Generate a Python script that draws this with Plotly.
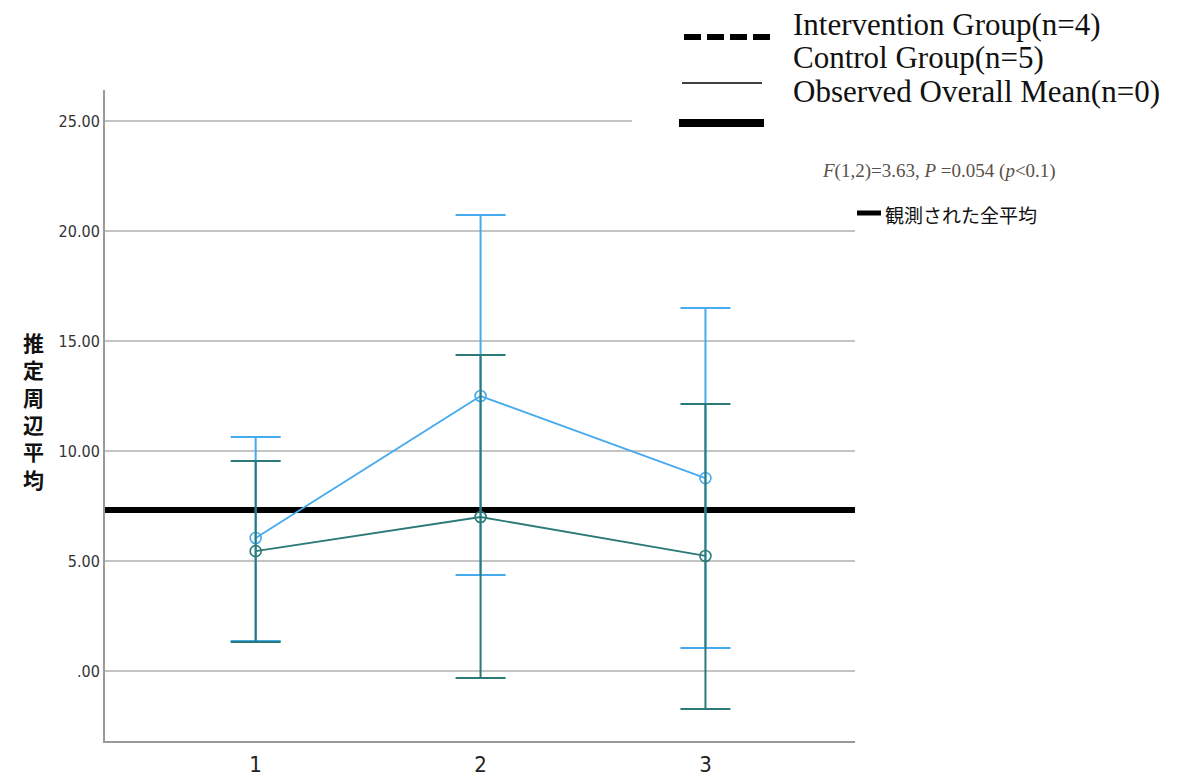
import plotly.graph_objects as go

# ---- data ----
categories = [1, 2, 3]
x_tick_labels = ["1", "2", "3"]
intervention_mean = [6.05, 12.50, 8.77]
intervention_upper = [10.64, 20.73, 16.50]
intervention_lower = [1.36, 4.36, 1.05]
control_mean = [5.45, 7.00, 5.23]
control_upper = [9.55, 14.36, 12.14]
control_lower = [1.32, -0.32, -1.73]
overall_mean = 7.32
y_tick_vals = [0, 5, 10, 15, 20, 25]
y_tick_labels = [".00", "5.00", "10.00", "15.00", "20.00", "25.00"]
legend_labels = ["Intervention Group(n=4)", "Control Group(n=5)", "Observed Overall Mean(n=0)"]
stat_text = "<i>F</i>(1,2)=3.63, <i>P</i> =0.054 (<i>p</i>&lt;0.1)"
jp_mean_label = "観測された全平均"
y_title = "推定周辺平均"

W, H = 1186, 779
L, R, T, B = 105, 855, 90, 741  # plot area in pixels


def px(x):
    return (x - L) / (R - L)


def py(y):
    return (B - y) / (B - T)


BLUE = "#45ABEE"
TEAL = "#2B7A78"
NARROW = "Liberation Sans Narrow, DejaVu Sans Condensed, Liberation Sans"

fig = go.Figure()


def add_group(mean, upper, lower, color):
    fig.add_trace(go.Scatter(
        x=categories, y=mean, mode="lines+markers",
        line=dict(color=color, width=1.8),
        marker=dict(symbol="circle-open", size=11, color=color, line=dict(width=1.6, color=color)),
        error_y=dict(type="data", symmetric=False,
                     array=[u - m for u, m in zip(upper, mean)],
                     arrayminus=[m - l for m, l in zip(mean, lower)],
                     color=color, thickness=2, width=25),
        showlegend=False, hoverinfo="skip",
    ))


add_group(intervention_mean, intervention_upper, intervention_lower, BLUE)
add_group(control_mean, control_upper, control_lower, TEAL)

shapes = []
# overall mean line
shapes.append(dict(type="line", xref="paper", yref="y", x0=0, x1=1, y0=overall_mean, y1=overall_mean,
                   line=dict(color="black", width=6), layer="below"))
# white patch of pasted legend image covering top gridline
shapes.append(dict(type="rect", xref="paper", yref="paper", x0=px(632), x1=px(862), y0=py(142), y1=py(95),
                   fillcolor="white", line=dict(width=0), layer="above"))
# legend symbols
shapes.append(dict(type="line", xref="paper", yref="paper", x0=px(684), x1=px(771), y0=py(37), y1=py(37),
                   line=dict(color="black", width=6, dash="17px,6px")))
shapes.append(dict(type="line", xref="paper", yref="paper", x0=px(682), x1=px(762), y0=py(83), y1=py(83),
                   line=dict(color="black", width=1.3)))
shapes.append(dict(type="line", xref="paper", yref="paper", x0=px(679), x1=px(764), y0=py(123), y1=py(123),
                   line=dict(color="black", width=8)))
# Japanese legend bar
shapes.append(dict(type="line", xref="paper", yref="paper", x0=px(857), x1=px(881), y0=py(213), y1=py(213),
                   line=dict(color="black", width=5)))

annotations = []
for label, yy in zip(legend_labels, [24, 58, 91]):
    annotations.append(dict(text=label, xref="paper", yref="paper", x=px(791), y=py(yy),
                            xanchor="left", yanchor="middle", showarrow=False,
                            font=dict(family="Liberation Serif", size=31, color="#111")))
annotations.append(dict(text=stat_text, xref="paper", yref="paper", x=px(820), y=py(171),
                        xanchor="left", yanchor="middle", showarrow=False,
                        font=dict(family="Liberation Serif", size=19, color="#5a5048")))
annotations.append(dict(text=jp_mean_label, xref="paper", yref="paper", x=px(883), y=py(214),
                        xanchor="left", yanchor="middle", showarrow=False,
                        font=dict(family="Noto Sans CJK JP", size=19, color="#111")))
annotations.append(dict(text="<b>" + "<br>".join(list(y_title)) + "</b>", xref="paper", yref="paper",
                        x=px(33), y=py(410), xanchor="center", yanchor="middle", showarrow=False,
                        font=dict(family="Noto Sans CJK JP", size=21, color="#111")))

fig.update_layout(
    width=W, height=H, autosize=False,
    margin=dict(l=L, r=W - R, t=T, b=H - B, pad=0),
    plot_bgcolor="white", paper_bgcolor="white",
    shapes=shapes, annotations=annotations, showlegend=False,
    xaxis=dict(range=[0.33, 3.665], tickvals=categories, ticktext=x_tick_labels, automargin=False,
               showgrid=False, zeroline=False, showline=True, linecolor="#9a9a9a", linewidth=2,
               ticks="", ticklabelstandoff=3,
               tickfont=dict(family=NARROW, size=22, color="#222")),
    yaxis=dict(range=[-3.18, 26.41], tickvals=y_tick_vals, ticktext=y_tick_labels, automargin=False,
               showgrid=True, gridcolor="#c4c4c4", gridwidth=1.5, zeroline=False,
               showline=True, linecolor="#9a9a9a", linewidth=2, ticks="",
               tickfont=dict(family=NARROW, size=16, color="#333")),
)

fig.write_html("out.html", config={"displayModeBar": False},
               post_script="document.body.style.margin='0';")
